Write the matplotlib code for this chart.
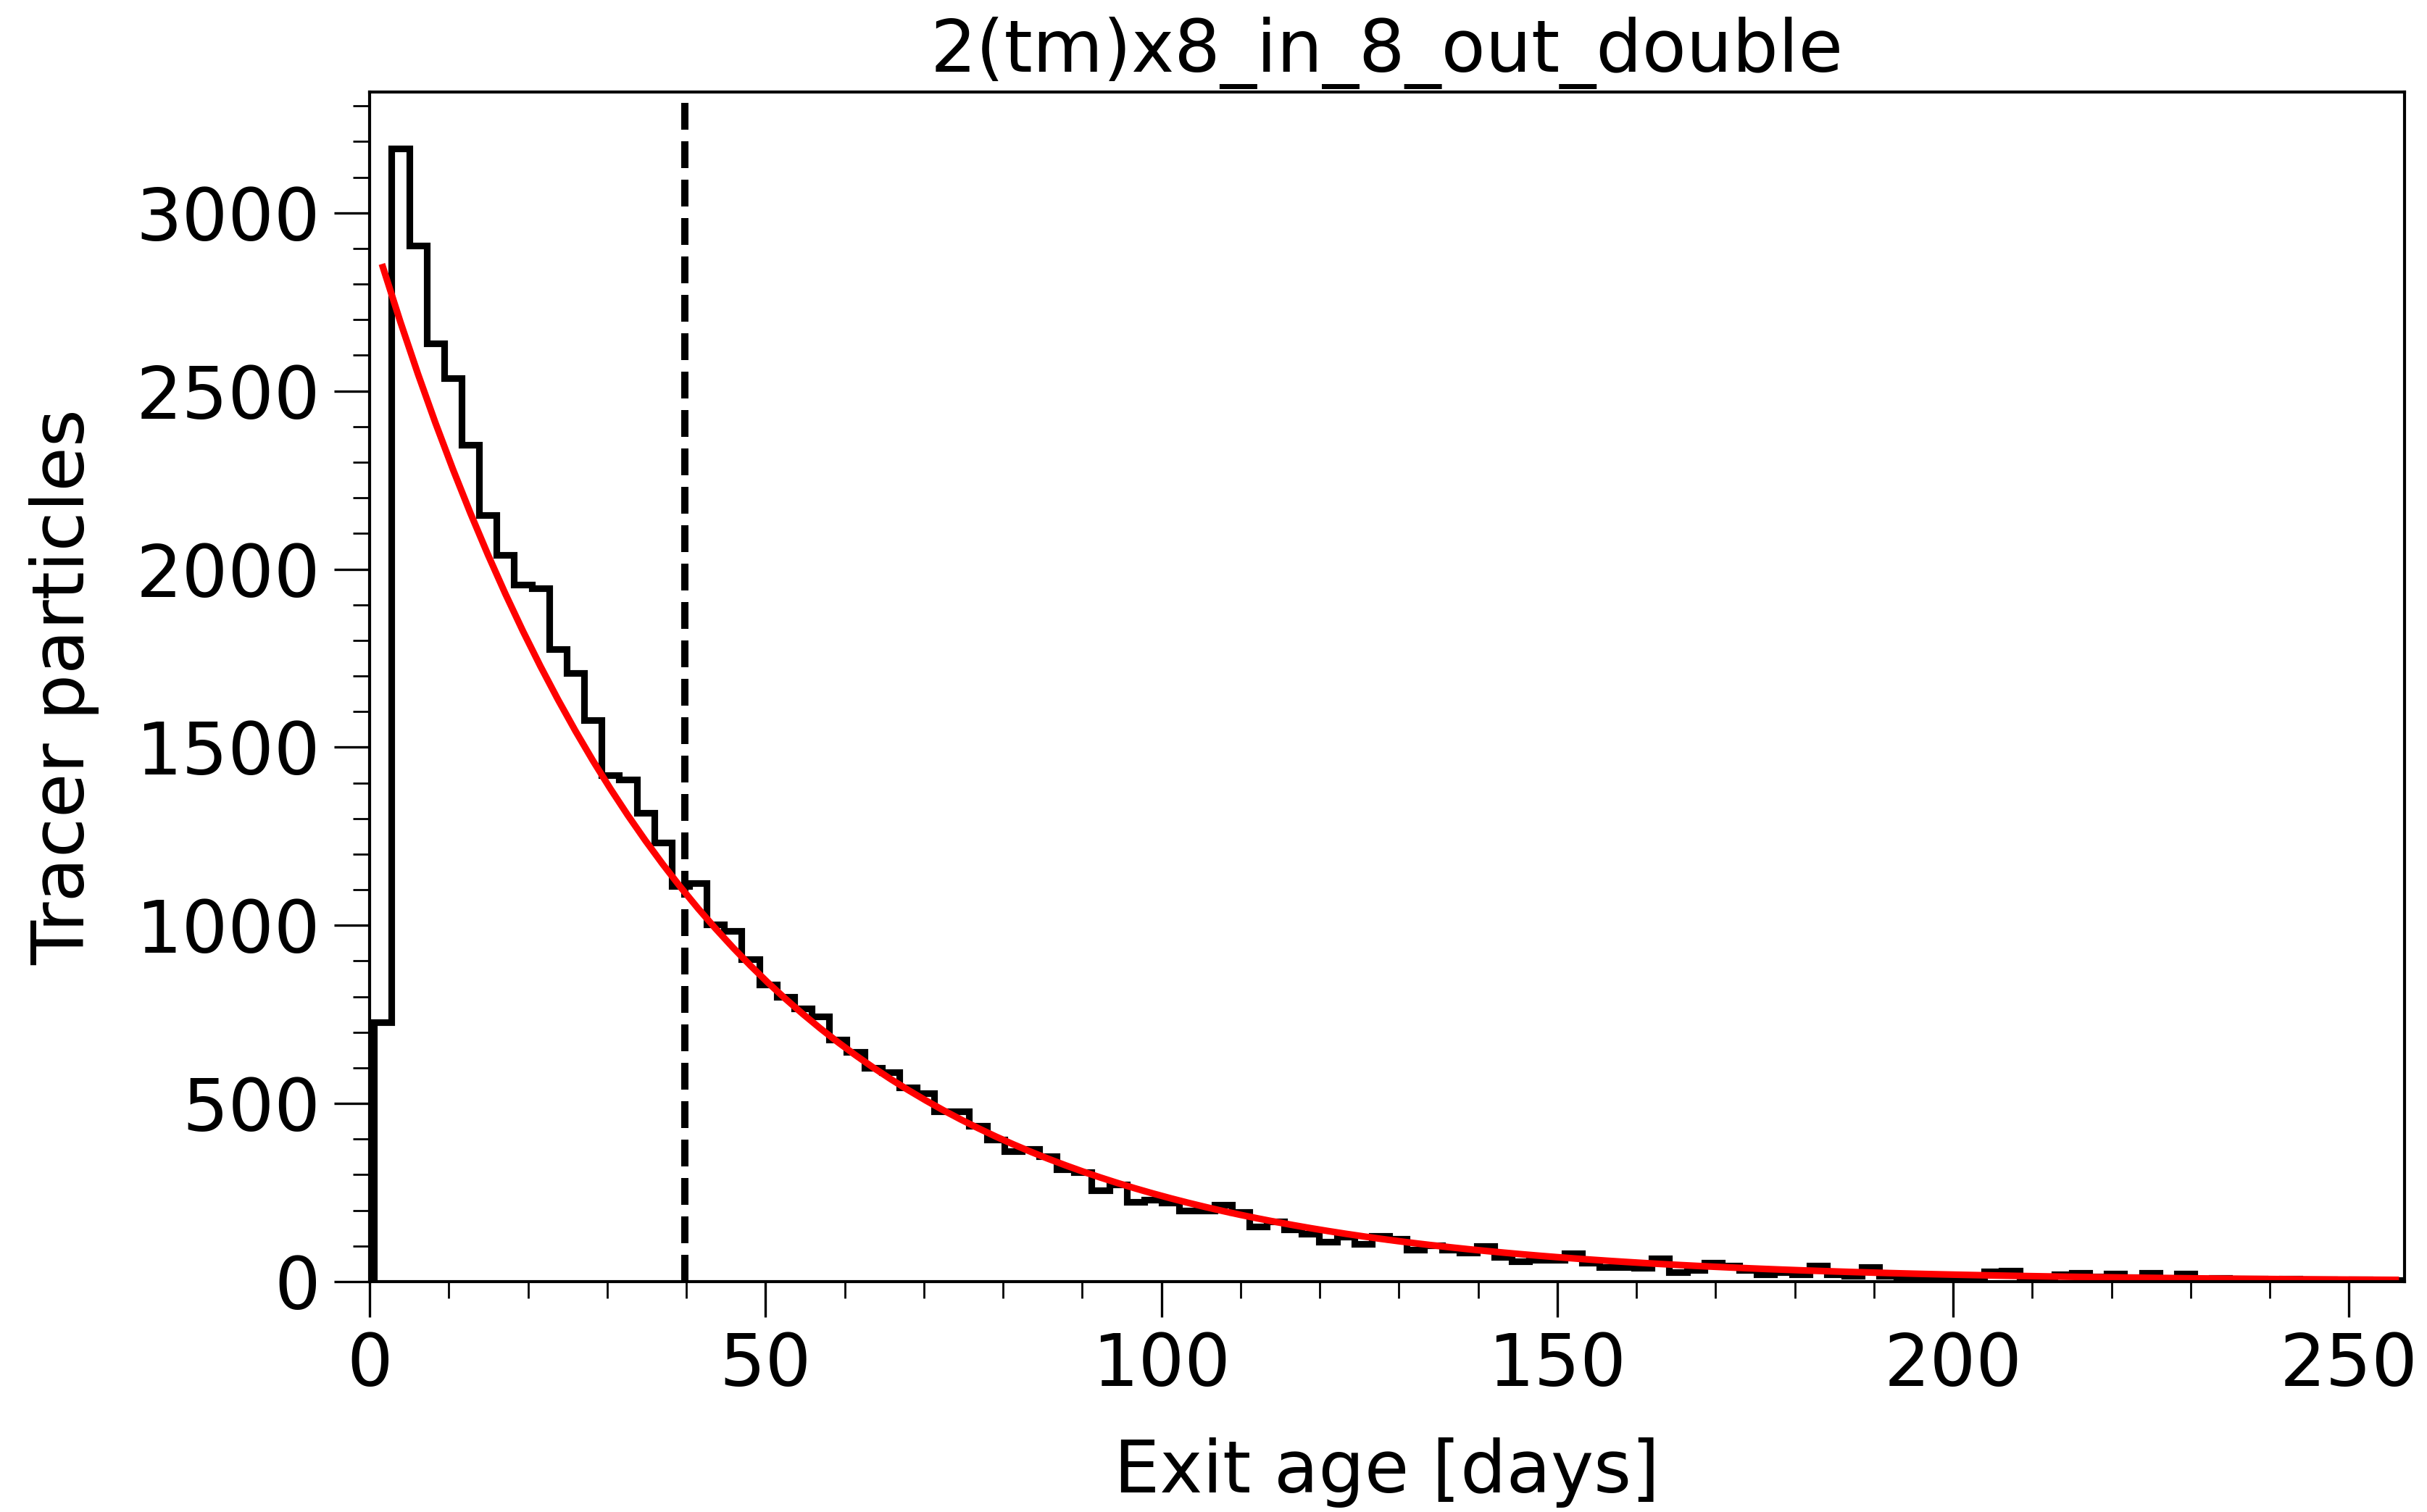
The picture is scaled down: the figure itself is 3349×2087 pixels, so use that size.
import numpy as np
import matplotlib
matplotlib.use('Agg')
import matplotlib.pyplot as plt
from matplotlib.ticker import MultipleLocator

# histogram of exit ages (counts)
first_edge = 0.57
last_edge = 257.0
counts = [
    728, 3180, 2908, 2634, 2535, 2349, 2152, 2039, 1957, 1946,
    1775, 1709, 1575, 1421, 1410, 1315, 1232, 1110, 1118, 1003,
    984, 904, 833, 800, 766, 744, 679, 645, 599, 588,
    544, 528, 477, 477, 437, 399, 365, 372, 351, 315,
    306, 257, 273, 223, 230, 222, 200, 200, 216, 196,
    155, 168, 147, 135, 111, 125, 105, 128, 120, 90,
    101, 89, 82, 99, 70, 57, 60, 60, 80, 52,
    41, 41, 39, 64, 27, 32, 52, 45, 33, 21,
    26, 20, 44, 20, 16, 40, 16, 9, 9, 7,
    13, 9, 28, 30, 14, 7, 20, 24, 14, 23,
    12, 25, 10, 22, 9, 11, 7, 8, 6, 7,
    5, 6, 4, 5, 3, 4,
]

# exponential fit parameters
fit_amp = 2970.0
fit_tau = 39.8

title = '2(tm)x8_in_8_out_double'
xlabel = 'Exit age [days]'
ylabel = 'Tracer particles'

edges = np.linspace(first_edge, last_edge, len(counts) + 1)
centres = 0.5 * (edges[1:] + edges[:-1])
fit_curve = fit_amp * np.exp(-centres / fit_tau)

plt.rcParams['font.family'] = 'DejaVu Sans'
plt.rcParams['font.size'] = 36

fig = plt.figure(figsize=(3349 / 200, 2087 / 200), dpi=200)
ax = fig.add_axes([0.1523, 0.1524, 0.8384, 0.7867])

ax.stairs(counts, edges, color='black', linewidth=3.3)
ax.axvline(fit_tau, color='black', linestyle='--', linewidth=3.6)
ax.plot(centres, fit_curve, color='red', linewidth=3.3)

ax.set_xlim(0, last_edge)
ax.set_ylim(0, max(counts) * 1.05)

ax.xaxis.set_major_locator(MultipleLocator(50))
ax.xaxis.set_minor_locator(MultipleLocator(10))
ax.yaxis.set_major_locator(MultipleLocator(500))
ax.yaxis.set_minor_locator(MultipleLocator(100))
ax.tick_params(which='major', direction='out', length=17.5, width=1.2, pad=7, labelsize=36)
ax.tick_params(which='minor', direction='out', length=8.4, width=1.0)

for sp in ax.spines.values():
    sp.set_linewidth(1.5)

ax.set_xlabel(xlabel, fontsize=36, labelpad=18)
ax.set_ylabel(ylabel, fontsize=36, labelpad=18)
ax.set_title(title, fontsize=36, pad=10)

fig.savefig('out.png', dpi=200)
